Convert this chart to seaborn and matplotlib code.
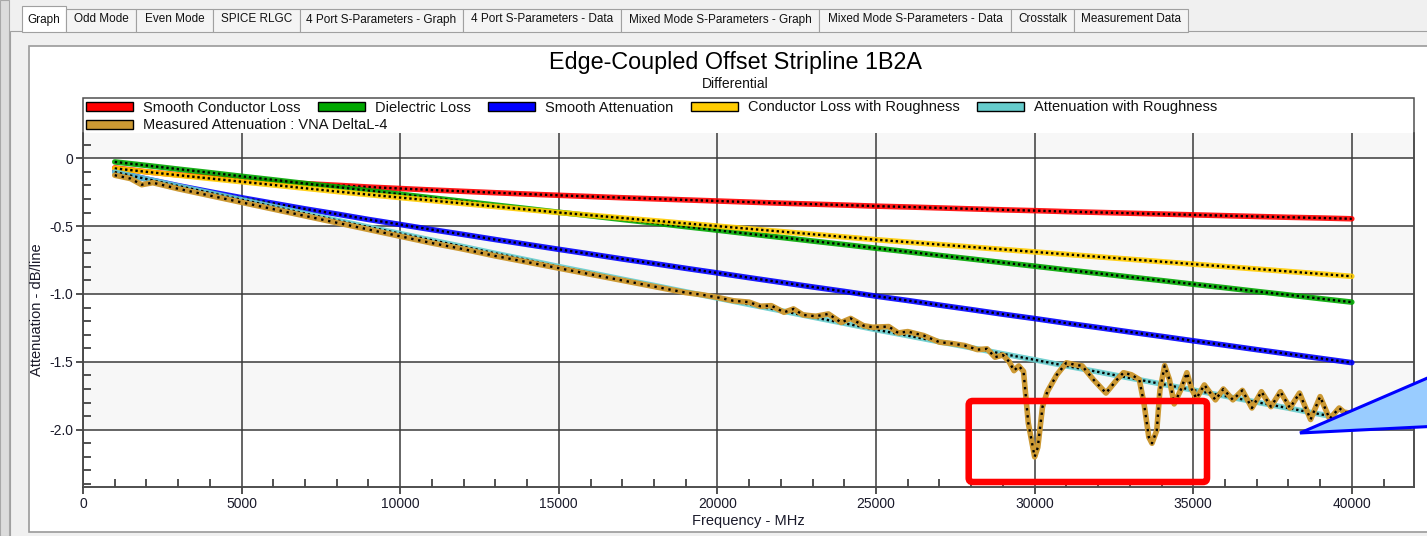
import pandas as pd
import seaborn as sns
import matplotlib.pyplot as plt
from matplotlib.patches import Patch, Rectangle, FancyBboxPatch, Polygon
from matplotlib.ticker import MultipleLocator, FuncFormatter
from matplotlib.transforms import IdentityTransform

# ---- data (attenuation in dB/line vs frequency in MHz)
freq_mhz = [1000, 2000, 3000, 4000, 5000, 6000, 7000, 8000, 9000, 10000,
            11000, 12000, 13000, 14000, 15000, 16000, 17000, 18000, 19000, 20000,
            21000, 22000, 23000, 24000, 25000, 26000, 27000, 28000, 29000, 30000,
            31000, 32000, 33000, 34000, 35000, 36000, 37000, 38000, 39000, 40000]

smooth_conductor = [-0.071, -0.100, -0.122, -0.141, -0.158, -0.173, -0.187, -0.199, -0.212, -0.223,
                    -0.234, -0.244, -0.254, -0.264, -0.273, -0.282, -0.291, -0.299, -0.307, -0.315,
                    -0.323, -0.331, -0.338, -0.345, -0.353, -0.359, -0.366, -0.373, -0.380, -0.386,
                    -0.393, -0.399, -0.405, -0.411, -0.417, -0.423, -0.429, -0.435, -0.440, -0.446]

dielectric = [-0.027, -0.053, -0.080, -0.106, -0.133, -0.159, -0.186, -0.212, -0.239, -0.265,
              -0.292, -0.318, -0.345, -0.371, -0.398, -0.424, -0.451, -0.477, -0.504, -0.530,
              -0.557, -0.583, -0.610, -0.636, -0.663, -0.689, -0.716, -0.742, -0.769, -0.795,
              -0.822, -0.848, -0.875, -0.901, -0.928, -0.954, -0.981, -1.007, -1.034, -1.060]

smooth_atten = [-0.098, -0.153, -0.202, -0.247, -0.291, -0.332, -0.373, -0.411, -0.451, -0.488,
                -0.526, -0.562, -0.599, -0.635, -0.671, -0.706, -0.742, -0.776, -0.811, -0.845,
                -0.880, -0.914, -0.948, -0.981, -1.016, -1.048, -1.082, -1.115, -1.149, -1.181,
                -1.215, -1.247, -1.280, -1.312, -1.345, -1.377, -1.410, -1.442, -1.474, -1.506]

rough_conductor = [-0.075, -0.100, -0.125, -0.149, -0.173, -0.197, -0.221, -0.245, -0.268, -0.290,
                   -0.312, -0.334, -0.356, -0.378, -0.400, -0.420, -0.440, -0.460, -0.480, -0.500,
                   -0.520, -0.540, -0.560, -0.580, -0.600, -0.618, -0.636, -0.654, -0.672, -0.690,
                   -0.708, -0.726, -0.744, -0.762, -0.780, -0.798, -0.816, -0.834, -0.852, -0.870]

rough_atten = [-0.102, -0.153, -0.205, -0.255, -0.306, -0.356, -0.407, -0.457, -0.507, -0.555,
               -0.604, -0.652, -0.701, -0.749, -0.798, -0.844, -0.891, -0.937, -0.984, -1.030,
               -1.077, -1.123, -1.170, -1.216, -1.263, -1.307, -1.352, -1.396, -1.441, -1.485,
               -1.530, -1.574, -1.619, -1.663, -1.708, -1.752, -1.797, -1.841, -1.886, -1.930]

measured_freq = [1000, 1500, 1850, 2200, 3000, 4000, 5000, 6000, 7000, 8000,
                 9000, 10000, 11000, 12000, 13000, 14000, 15000, 16000, 17000, 18000,
                 19000, 19500, 20000, 20500, 21000, 21350, 21700, 22100, 22400, 22700,
                 23100, 23500, 23900, 24200, 24600, 24900, 25400, 25700, 26000, 26500,
                 27000, 27400, 27800, 28200, 28500, 28750, 29000, 29200, 29350, 29500,
                 29650, 29800, 30000, 30100, 30250, 30400, 30700, 31000, 31250, 31500,
                 31850, 32250, 32600, 32800, 33050, 33300, 33450, 33600, 33700, 33850,
                 33950, 34100, 34250, 34400, 34600, 34800, 34950, 35100, 35350, 35700,
                 35950, 36250, 36550, 36850, 37150, 37450, 37750, 38050, 38350, 38700,
                 39000, 39300, 39600, 39750, 40000]
measured = [-0.125, -0.150, -0.195, -0.180, -0.225, -0.275, -0.325, -0.375, -0.425, -0.475,
            -0.525, -0.575, -0.625, -0.670, -0.720, -0.765, -0.810, -0.855, -0.900, -0.945,
            -0.990, -1.005, -1.025, -1.050, -1.060, -1.090, -1.086, -1.135, -1.110, -1.154,
            -1.164, -1.147, -1.210, -1.180, -1.233, -1.245, -1.240, -1.287, -1.277, -1.306,
            -1.355, -1.365, -1.380, -1.410, -1.404, -1.466, -1.450, -1.500, -1.565, -1.530,
            -1.570, -1.950, -2.200, -2.130, -1.830, -1.720, -1.595, -1.507, -1.520, -1.530,
            -1.630, -1.730, -1.630, -1.580, -1.595, -1.630, -1.810, -2.055, -2.100, -2.005,
            -1.710, -1.527, -1.630, -1.810, -1.710, -1.580, -1.700, -1.770, -1.670, -1.780,
            -1.700, -1.780, -1.710, -1.840, -1.720, -1.830, -1.720, -1.840, -1.730, -1.925,
            -1.756, -1.920, -1.840, -1.870, -1.880]

series_names = ["Smooth Conductor Loss", "Dielectric Loss", "Smooth Attenuation",
                "Conductor Loss with Roughness", "Attenuation with Roughness"]
series_values = [smooth_conductor, dielectric, smooth_atten, rough_conductor, rough_atten]
series_colors = ["#ff0000", "#00a800", "#0000ff", "#ffcc00", "#66cccc"]
measured_name = "Measured Attenuation : VNA DeltaL-4"
measured_color = "#cc9933"

tab_labels = ["Graph", "Odd Mode", "Even Mode", "SPICE RLGC", "4 Port S-Parameters - Graph",
              "4 Port S-Parameters - Data", "Mixed Mode S-Parameters - Graph",
              "Mixed Mode S-Parameters - Data", "Crosstalk", "Measurement Data"]
tab_edges = [22, 66, 136, 213, 300, 463, 621, 819, 1011, 1074, 1188]

W, H = 1427, 536

sns.set_style("white")
plt.rcParams["font.family"] = ["Liberation Sans", "DejaVu Sans"]
plt.rcParams["text.color"] = "#111111"

fig = plt.figure(figsize=(W / 100, H / 100), dpi=100, facecolor="#f0f0f0")
px = IdentityTransform()


def box(x0, y0, x1, y1, **kw):
    # rectangle given in screenshot pixels (origin top-left)
    r = Rectangle((x0, H - y1), x1 - x0, y1 - y0, transform=px, **kw)
    fig.add_artist(r)
    return r


# ---- window chrome: left strip, tabs, white panel
box(0, 0, 9, H, facecolor="#dcdcdc", edgecolor="#a8a8a8", lw=0.8, zorder=-6)
box(10, 31, W + 5, H + 5, facecolor="#f0f0f0", edgecolor="#a0a0a0", lw=0.8, zorder=-6)
for i, lab in enumerate(tab_labels):
    x0, x1 = tab_edges[i], tab_edges[i + 1]
    top = 6 if i == 0 else 9
    box(x0, top, x1, 32, facecolor="#ffffff" if i == 0 else "#f4f4f4",
        edgecolor="#a0a0a0", lw=0.8, zorder=-5)
    fig.text((x0 + x1) / 2 / W, 1 - 19.5 / H, lab, ha="center", va="center",
             fontsize=8.5, color="#111111")
box(29, 46, W + 5, 532, facecolor="white", edgecolor="#9a9a9a", lw=1.2, zorder=-4)

# ---- plot area
ax = fig.add_axes([83 / W, 1 - 487 / H, (1414 - 83) / W, (487 - 133) / H])
ax.set_facecolor("white")
for lo, hi in [(0, 0.3), (-1.0, -0.5), (-2.0, -1.5)]:
    ax.axhspan(lo, hi, color="#f7f7f7", zorder=0, lw=0)

for name, vals, col in zip(series_names, series_values, series_colors):
    sns.lineplot(x=freq_mhz, y=vals, color=col, lw=4.0, alpha=0.9, ax=ax, zorder=3)
    sns.lineplot(x=freq_mhz, y=vals, color="black", lw=1.7, linestyle=(0, (1, 1.2)),
                 ax=ax, zorder=3)
sns.lineplot(x=measured_freq, y=measured, color=measured_color, lw=4.0, ax=ax, zorder=3)
sns.lineplot(x=measured_freq, y=measured, color="black", lw=1.7, linestyle=(0, (1, 2.0)),
             ax=ax, zorder=3)

ax.set_xlim(0, 41960)
ax.set_ylim(-2.422, 0.186)
ax.xaxis.set_major_locator(MultipleLocator(5000))
ax.xaxis.set_minor_locator(MultipleLocator(1000))
ax.yaxis.set_major_locator(MultipleLocator(0.5))
ax.yaxis.set_minor_locator(MultipleLocator(0.1))
ax.xaxis.set_major_formatter(FuncFormatter(lambda v, _: f"{int(round(v))}"))
ax.yaxis.set_major_formatter(FuncFormatter(lambda v, _: "0" if abs(v) < 1e-9 else f"{v:.1f}"))
ax.tick_params(which="both", bottom=True, left=True, top=False, right=False)
ax.tick_params(which="major", direction="out", length=5, width=1.1, labelsize=10,
               pad=2, colors="#222222", labelcolor="#1a1a2a")
ax.tick_params(which="minor", direction="in", length=5.5, width=1.1, colors="#222222")
ax.grid(True, which="major", color="#3a3a3a", lw=1.1)
ax.set_axisbelow(True)
for side in ["left", "bottom", "right"]:
    ax.spines[side].set_color("#2a2a2a")
    ax.spines[side].set_linewidth(1.1)
ax.spines["top"].set_visible(False)
ax.set_xlabel("Frequency - MHz", fontsize=10.5, labelpad=2.5, color="#1a1a2a")
ax.set_ylabel("Attenuation - dB/line", fontsize=10.5, labelpad=4, color="#1a1a2a")

# outer frame that also holds the legend
box(83, 98, 1414, 487, facecolor="none", edgecolor="#505050", lw=1.1, zorder=5)

fig.text(735.5 / W, 1 - 62 / H, "Edge-Coupled Offset Stripline 1B2A", ha="center",
         va="center", fontsize=16.8, color="black")
fig.text(735.5 / W, 1 - 84 / H, "Differential", ha="center", va="center", fontsize=10,
         color="#111111")

# ---- legend, two rows
handles = [Patch(facecolor=c, edgecolor="black", lw=1.0, label=n)
           for n, c in zip(series_names, series_colors)]
leg_kw = dict(frameon=False, fontsize=10.5, handlelength=3.2, handleheight=0.57,
              handletextpad=0.68, columnspacing=1.23, borderpad=0, borderaxespad=0,
              loc="center left")
fig.legend(handles=handles, ncol=5, bbox_to_anchor=(86 / W, 1 - 107.5 / H), **leg_kw)
fig.legend(handles=[Patch(facecolor=measured_color, edgecolor="black", lw=1.0,
                          label=measured_name)],
           bbox_to_anchor=(86 / W, 1 - 125.5 / H), **leg_kw)

# ---- annotations drawn on top of the screenshot
red_box = FancyBboxPatch((968.7, H - 482), 1207 - 968.7, 482 - 401,
                         boxstyle="round,pad=0,rounding_size=4", transform=px,
                         facecolor="none", edgecolor="#ff0000", lw=4.7, zorder=10)
fig.add_artist(red_box)
callout = Polygon([(1300, H - 433), (1460, H - 364), (1460, H - 425)], closed=True,
                  transform=px, facecolor="#99ccff", edgecolor="#0000ff", lw=2.2, zorder=10)
fig.add_artist(callout)

plt.savefig("out.png", dpi=100, facecolor=fig.get_facecolor())
